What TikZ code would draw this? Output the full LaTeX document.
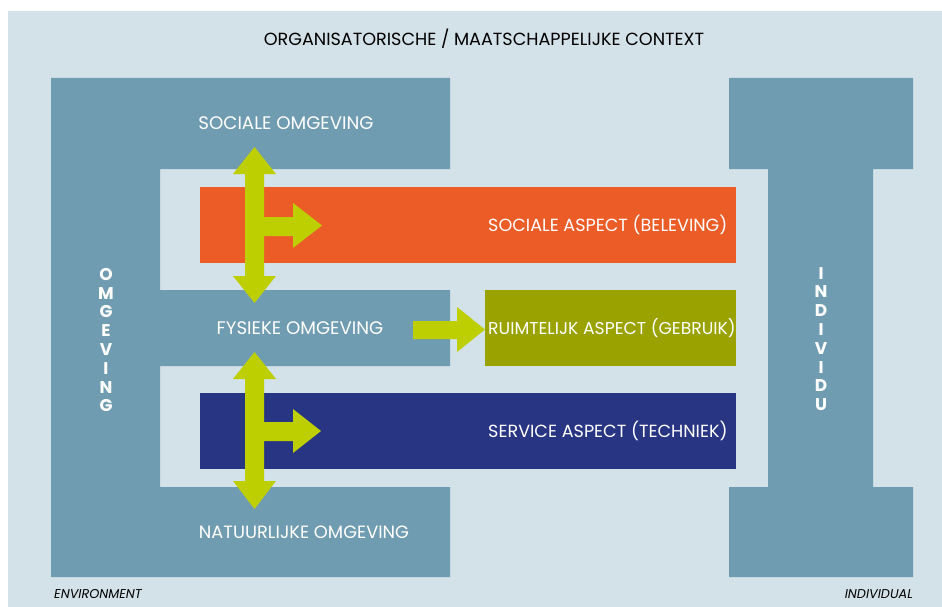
\documentclass[tikz,border=0pt]{standalone}
\usepackage{fontspec}
\setmainfont{Poppins}
\definecolor{bgc}{HTML}{D3E1E8}
\definecolor{midc}{HTML}{6F9CB0}
\definecolor{orc}{HTML}{EB5C27}
\definecolor{olc}{HTML}{9AA200}
\definecolor{nvc}{HTML}{283583}
\definecolor{lmc}{HTML}{BDCF00}
\begin{document}
\begin{tikzpicture}[x=1pt,y=-1pt,
  lbl/.style={inner sep=0pt, text=white, font=\fontsize{17.6}{17.6}\selectfont, text height=12.3pt, text depth=0pt},
  olbl/.style={lbl, font=\fontsize{18.2}{18.2}\selectfont, text height=12.7pt},
  vlbl/.style={inner sep=0pt, text=white, align=center, font=\bfseries\fontsize{17}{18.8}\selectfont},
  note/.style={inner sep=0pt, font=\itshape\fontsize{12.8}{12.8}\selectfont, text height=9pt, text depth=0pt},
  aspect/.style={inner sep=0pt, minimum height=76pt, anchor=north west},
  arr/.style={fill=lmc, draw=none}]
\useasboundingbox (0,0) rectangle (942,607);
\fill[white] (0,0) rectangle (942,607);
\fill[bgc] (8,11) rectangle (942,607);
% left E shape
\fill[midc] (51,78) -- (450,78) -- (450,169) -- (160,169) -- (160,290) -- (450,290) -- (450,366) -- (160,366) -- (160,487) -- (450,487) -- (450,577) -- (51,577) -- cycle;
% right I shape
\fill[midc] (729,78) -- (913,78) -- (913,169) -- (873,169) -- (873,487) -- (913,487) -- (913,577) -- (729,577) -- (729,487) -- (768,487) -- (768,169) -- (729,169) -- cycle;
% aspect boxes
\node[aspect, fill=orc, minimum width=536pt] (soc) at (200,187) {};
\node[aspect, fill=olc, minimum width=251pt] (rui) at (485,290) {};
\node[aspect, fill=nvc, minimum width=536pt] (ser) at (200,393) {};
% arrows
\fill[arr] (254.5,147) -- (276,174) -- (264,174) -- (264,217) -- (293,217) -- (293,203) -- (322,225.5) -- (293,248) -- (293,236) -- (264,236) -- (264,276) -- (276,276) -- (254.5,303) -- (233,276) -- (245,276) -- (245,174) -- (233,174) -- cycle;
\fill[arr] (254.5,352) -- (276,379) -- (264,379) -- (264,422) -- (293,422) -- (293,409) -- (321,431) -- (293,453) -- (293,441) -- (264,441) -- (264,481) -- (276,481) -- (254.5,509) -- (233,481) -- (245,481) -- (245,379) -- (233,379) -- cycle;
\fill[arr] (413,321) -- (457,321) -- (457,307) -- (485,329.5) -- (457,352) -- (457,339) -- (413,339) -- cycle;
% texts
\node[lbl, text=black] (title) at (484,39) {ORGANISATORISCHE / MAATSCHAPPELIJKE CONTEXT};
\node[olbl] (sog) at (286,123) {SOCIALE OMGEVING};
\node[olbl] (fog) at (300,328) {FYSIEKE OMGEVING};
\node[lbl, font=\fontsize{17.8}{17.8}\selectfont] (nog) at (304,532) {NATUURLIJKE OMGEVING};
\node[lbl, anchor=west] (sa) at (488,225) {SOCIALE ASPECT (BELEVING)};
\node[lbl, anchor=west, font=\fontsize{17.2}{17.2}\selectfont] (ra) at (488,328) {RUIMTELIJK ASPECT (GEBRUIK)};
\node[lbl, anchor=west] (sva) at (488,431) {SERVICE ASPECT (TECHNIEK)};
\node[vlbl] (omg) at (106,340) {O\\M\\G\\E\\V\\I\\N\\G};
\node[vlbl] (ind) at (821,339) {I\\N\\D\\I\\V\\I\\D\\U};
\node[note, anchor=west] (env) at (54,594) {ENVIRONMENT};
\node[note, anchor=east] (indl) at (913,594) {INDIVIDUAL};
\end{tikzpicture}
\end{document}
